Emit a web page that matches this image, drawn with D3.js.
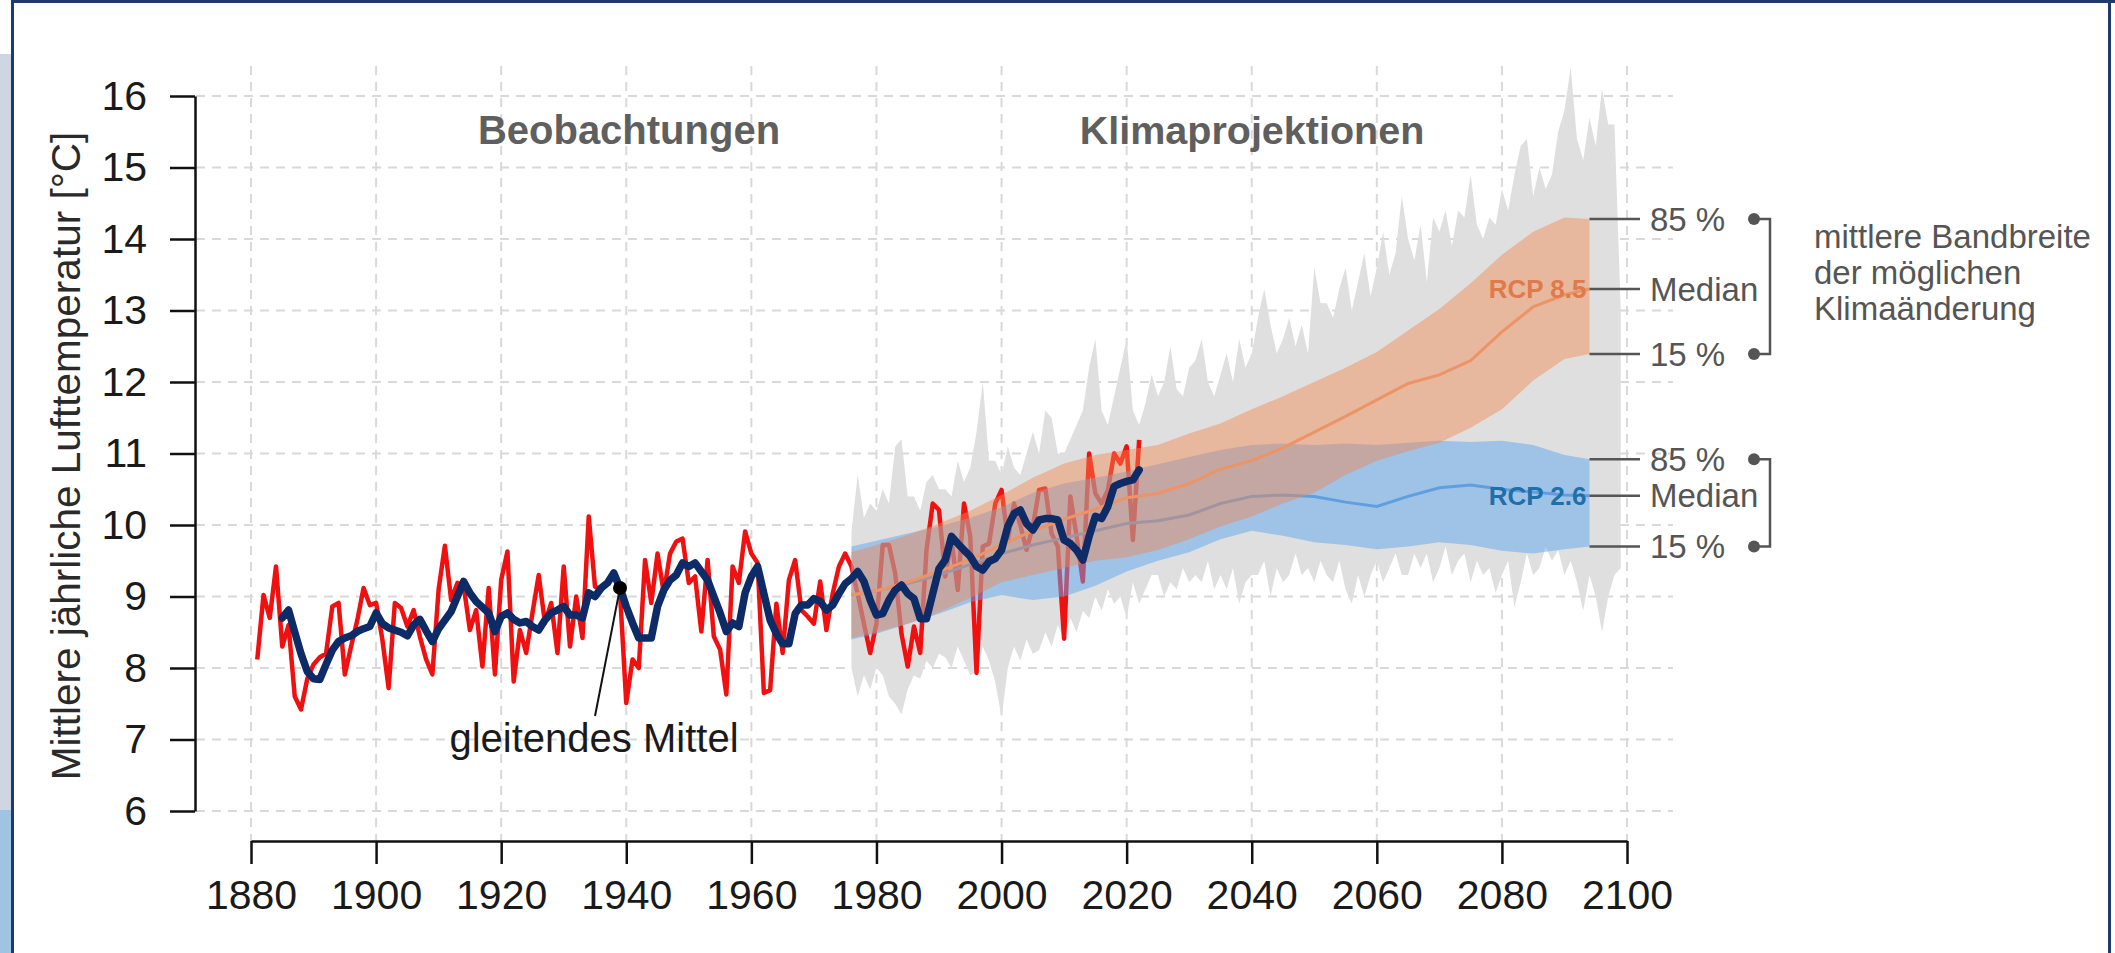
<!DOCTYPE html>
<html>
<head>
<meta charset="utf-8">
<script src="https://cdn.jsdelivr.net/npm/d3@7"></script>
<style>
  body { margin: 0; background: #fff; }
  svg { display: block; font-family: Arial, "Liberation Sans", sans-serif; }
</style>
</head>
<body>
<div class="chart"></div>
<script>
// observed annual mean temperature 1881-2022
const obsStart = 1881;
const obsTemp = [
  8.12, 9.02, 8.70, 9.42, 8.30, 8.60, 7.60, 7.42, 7.85, 8.05,
  8.15, 8.20, 8.86, 8.91, 7.91, 8.30, 8.67, 9.12, 8.88, 8.91,
  8.40, 7.72, 8.91, 8.84, 8.58, 8.81, 8.44, 8.12, 7.91, 9.10,
  9.71, 8.95, 9.19, 9.15, 8.53, 8.81, 8.02, 9.12, 7.91, 9.23,
  9.63, 7.81, 8.53, 8.21, 8.77, 9.30, 8.63, 8.91, 8.21, 9.42,
  8.30, 9.00, 8.42, 10.12, 9.14, 9.09, 9.19, 9.28, 9.05, 7.51,
  8.12, 8.00, 9.51, 8.91, 9.60, 9.05, 9.60, 9.77, 9.81, 9.19,
  9.28, 8.51, 9.51, 8.44, 8.26, 7.63, 9.42, 9.19, 9.91, 9.60,
  9.47, 7.65, 7.69, 8.90, 8.21, 9.23, 9.51, 8.81, 8.72, 8.62,
  9.21, 8.53, 9.04, 9.42, 9.60, 9.42, 9.04, 8.62, 8.21, 8.62,
  9.72, 9.72, 9.32, 8.48, 8.02, 8.58, 8.21, 9.65, 10.30, 10.21,
  9.28, 9.79, 9.09, 10.30, 9.84, 7.93, 9.70, 9.74, 10.30, 10.49,
  9.80, 10.30, 10.00, 9.65, 9.98, 10.49, 10.51, 9.88, 9.70, 8.41,
  10.40, 9.84, 9.21, 11.00, 10.44, 10.30, 10.49, 11.00, 10.86, 11.10,
  9.79, 11.19
];

// gleitendes Mittel 1885-2022
const meanStart = 1885;
const meanTemp = [
  8.70, 8.81, 8.50, 8.20, 7.95, 7.85, 7.84, 8.05, 8.25, 8.37,
  8.42, 8.45, 8.51, 8.55, 8.58, 8.77, 8.62, 8.56, 8.53, 8.50,
  8.45, 8.60, 8.68, 8.52, 8.37, 8.55, 8.67, 8.79, 9.00, 9.21,
  9.05, 8.93, 8.85, 8.77, 8.51, 8.72, 8.77, 8.68, 8.63, 8.65,
  8.58, 8.53, 8.67, 8.77, 8.81, 8.86, 8.74, 8.74, 8.70, 9.05,
  9.00, 9.12, 9.19, 9.33, 9.12, 8.86, 8.63, 8.42, 8.42, 8.42,
  8.86, 9.09, 9.23, 9.30, 9.47, 9.42, 9.47, 9.35, 9.23, 9.00,
  8.77, 8.51, 8.63, 8.58, 9.05, 9.28, 9.42, 9.04, 8.67, 8.48,
  8.34, 8.34, 8.76, 8.88, 8.88, 8.97, 8.93, 8.81, 8.88, 9.04,
  9.18, 9.25, 9.35, 9.21, 8.95, 8.74, 8.76, 8.95, 9.09, 9.16,
  9.04, 8.97, 8.69, 8.69, 9.04, 9.39, 9.51, 9.84, 9.74, 9.65,
  9.56, 9.42, 9.37, 9.49, 9.53, 9.65, 9.98, 10.16, 10.21, 10.02,
  9.93, 10.07, 10.09, 10.09, 10.07, 9.79, 9.74, 9.65, 9.51, 9.84,
  10.12, 10.09, 10.26, 10.54, 10.58, 10.61, 10.63, 10.77
];

// full model range (grey) 1976-2099
const envStart = 1976;
const envHigh = [
  9.9, 10.7, 10.1, 10.3, 10.2, 10.5, 10.3, 11.1, 11.2, 10.4,
  10.4, 10.2, 10.6, 10.7, 10.5, 10.5, 10.4, 10.9, 10.6, 10.8,
  11.3, 12.0, 10.9, 10.9, 10.7, 11.1, 10.8, 10.7, 11.0, 11.3,
  11.0, 11.6, 11.5, 11.0, 11.0, 11.2, 11.4, 11.6, 12.2, 12.6,
  11.6, 11.4, 11.8, 12.2, 12.6, 11.6, 11.4, 11.7, 12.1, 11.8,
  12.0, 12.5, 11.9, 11.8, 12.2, 12.3, 12.6, 12.0, 11.8, 12.1,
  12.4, 12.0, 12.6, 12.2, 12.4, 12.9, 13.3, 12.8, 12.4, 12.6,
  12.9, 12.5, 12.8, 12.4, 13.6, 13.1, 13.1, 12.9, 13.3, 13.6,
  13.0, 13.4, 13.8, 13.2, 13.6, 14.1, 13.5, 13.8, 14.6, 14.0,
  13.7, 14.2, 13.4, 14.3, 14.1, 14.4, 13.9, 14.4, 14.3, 14.9,
  14.2, 14.0, 14.3, 14.2, 14.7, 14.4, 14.9, 15.3, 15.4, 14.6,
  15.0, 14.7, 14.9, 15.5, 15.8, 16.4, 15.4, 15.1, 15.7, 15.3,
  16.1, 15.6, 15.6, 13.0
];
const envLow = [
  8.0, 7.6, 7.9, 7.7, 8.0, 7.9, 7.6, 7.5, 7.35, 7.7,
  7.9, 7.85, 8.1, 8.0, 8.2, 8.15, 8.0, 8.3, 8.1, 7.9,
  7.95, 8.3, 8.1, 7.8, 7.3, 8.0, 8.3, 8.1, 8.4, 8.2,
  8.25, 8.5, 8.3, 8.6, 8.4, 8.7, 8.5, 8.8, 8.7, 9.0,
  8.8, 9.1, 8.9, 9.0, 8.7, 9.2, 8.9, 9.1, 9.3, 9.3,
  9.0, 9.2, 9.1, 9.4, 9.2, 9.3, 9.2, 9.5, 9.1, 9.3,
  9.1, 9.4, 8.9, 9.2, 9.3, 9.3, 9.5, 9.0, 9.4, 9.2,
  9.3, 9.6, 9.3, 9.4, 9.2, 9.5, 9.3, 9.2, 9.5, 9.1,
  8.9, 9.3, 9.0, 9.3, 9.5, 9.2, 9.4, 9.6, 9.3, 9.3,
  9.6, 9.4, 9.6, 9.2, 9.4, 9.7, 9.3, 9.5, 9.6, 9.2,
  9.5, 9.3, 9.4, 9.05, 9.3, 9.5, 8.85, 9.2, 9.6, 9.3,
  9.4, 9.7, 9.5, 9.65, 9.3, 9.5, 9.2, 8.8, 9.3, 9.0,
  8.5, 9.0, 9.3, 9.4
];

// 15 % / median / 85 % of the scenarios
const bandYears = [1976, 1980, 1985, 1990, 1995, 2000, 2005, 2010, 2015, 2020, 2025, 2030, 2035,
                   2040, 2045, 2050, 2055, 2060, 2065, 2070, 2075, 2080, 2085, 2090, 2094];
const rcp85High = [9.62, 9.72, 9.86, 10.02, 10.20, 10.42, 10.66, 10.86, 10.98, 11.05, 11.12, 11.28, 11.42,
                   11.62, 11.80, 12.00, 12.20, 12.42, 12.72, 13.02, 13.38, 13.78, 14.10, 14.30, 14.28];
const rcp85Median = [9.02, 9.08, 9.20, 9.35, 9.52, 9.72, 9.92, 10.08, 10.22, 10.38, 10.44, 10.58, 10.78,
                     10.90, 11.08, 11.30, 11.52, 11.75, 11.98, 12.10, 12.30, 12.70, 13.05, 13.22, 13.30];
const rcp85Low = [8.42, 8.50, 8.62, 8.78, 8.98, 9.20, 9.30, 9.40, 9.50, 9.55, 9.65, 9.80, 9.98,
                  10.12, 10.30, 10.45, 10.70, 10.90, 11.03, 11.15, 11.36, 11.62, 12.02, 12.32, 12.39];
const rcp26High = [9.70, 9.78, 9.88, 9.98, 10.10, 10.25, 10.45, 10.58, 10.66, 10.75, 10.85, 10.95, 11.05,
                   11.12, 11.14, 11.12, 11.14, 11.12, 11.15, 11.18, 11.16, 11.18, 11.12, 10.98, 10.92];
const rcp26Median = [9.02, 9.08, 9.18, 9.30, 9.45, 9.60, 9.72, 9.82, 9.92, 10.02, 10.06, 10.14, 10.30,
                     10.40, 10.42, 10.40, 10.32, 10.26, 10.40, 10.52, 10.56, 10.50, 10.46, 10.42, 10.41];
const rcp26Low = [8.40, 8.48, 8.62, 8.76, 8.92, 9.02, 8.95, 9.00, 9.15, 9.35, 9.50, 9.62, 9.80,
                  9.92, 9.85, 9.76, 9.72, 9.66, 9.70, 9.76, 9.72, 9.64, 9.60, 9.66, 9.70];

const xTickLabels = [1880, 1900, 1920, 1940, 1960, 1980, 2000, 2020, 2040, 2060, 2080, 2100];
const yTickLabels = [6, 7, 8, 9, 10, 11, 12, 13, 14, 15, 16];

const W = 2115, H = 953;
const font = "Arial, 'Liberation Sans', sans-serif";

const x = d3.scaleLinear().domain([1880, 2100]).range([251, 1627]);
const y = d3.scaleLinear().domain([6, 16]).range([811, 96]);

const svg = d3.select(".chart").append("svg")
    .attr("width", W)
    .attr("height", H);

// slide frame
svg.append("rect").attr("x", 0).attr("y", 0).attr("width", W).attr("height", H).attr("fill", "#fff");
svg.append("rect").attr("x", 0).attr("y", 54).attr("width", 12).attr("height", 756).attr("fill", "#cdd6e2");
svg.append("rect").attr("x", 0).attr("y", 810).attr("width", 12).attr("height", 143).attr("fill", "#9fc3e3");
svg.append("rect").attr("x", 11).attr("y", 0).attr("width", 3).attr("height", H).attr("fill", "#1f3a6e");
svg.append("rect").attr("x", 11).attr("y", 0).attr("width", W - 11).attr("height", 3).attr("fill", "#1f3a6e");
svg.append("rect").attr("x", 2108).attr("y", 0).attr("width", 3).attr("height", H).attr("fill", "#1f3a6e");

//grid
const grid = svg.append("g")
    .attr("stroke", "#d9d9d9")
    .attr("stroke-width", 2)
    .attr("stroke-dasharray", "9,7");
grid.selectAll(".hgrid")
  .data(yTickLabels)
  .join("line")
    .attr("class", "hgrid")
    .attr("x1", 196).attr("x2", 1673)
    .attr("y1", d => y(d)).attr("y2", d => y(d));
grid.selectAll(".vgrid")
  .data(xTickLabels)
  .join("line")
    .attr("class", "vgrid")
    .attr("x1", d => x(d)).attr("x2", d => x(d))
    .attr("y1", 66).attr("y2", 841);

const env = envHigh.map((v, i) => ({year: envStart + i, hi: v, lo: envLow[i]}));
const obs = obsTemp.map((v, i) => ({year: obsStart + i, t: v}));
const mean = meanTemp.map((v, i) => ({year: meanStart + i, t: v}));
const r85 = bandYears.map((yr, i) => ({year: yr, hi: rcp85High[i], med: rcp85Median[i], lo: rcp85Low[i]}));
const r26 = bandYears.map((yr, i) => ({year: yr, hi: rcp26High[i], med: rcp26Median[i], lo: rcp26Low[i]}));

const area = d3.area()
    .x(d => x(d.year))
    .y0(d => y(d.lo))
    .y1(d => y(d.hi));
const line = d3.line()
    .x(d => x(d.year))
    .y(d => y(d.t));
const medLine = d3.line()
    .x(d => x(d.year))
    .y(d => y(d.med));

// grey spread of all runs
svg.append("path")
    .datum(env)
    .attr("fill", "#dfdfdf")
    .attr("d", area);

// observations
svg.append("path")
    .datum(obs)
    .attr("fill", "none")
    .attr("stroke", "#f01010")
    .attr("stroke-width", 4.5)
    .attr("stroke-linejoin", "round")
    .attr("d", line);

// RCP 2.6
svg.append("path")
    .datum(r26)
    .attr("fill", "rgb(95,165,240)")
    .attr("fill-opacity", 0.5)
    .attr("d", area);
svg.append("path")
    .datum(r26)
    .attr("fill", "none")
    .attr("stroke", "#5f9fe0")
    .attr("stroke-width", 3)
    .attr("d", medLine);

// RCP 8.5
svg.append("path")
    .datum(r85)
    .attr("fill", "rgb(242,135,80)")
    .attr("fill-opacity", 0.45)
    .attr("d", area);
svg.append("path")
    .datum(r85)
    .attr("fill", "none")
    .attr("stroke", "#ec9466")
    .attr("stroke-width", 3)
    .attr("d", medLine);

// moving mean
svg.append("path")
    .datum(mean)
    .attr("fill", "none")
    .attr("stroke", "#0d2b66")
    .attr("stroke-width", 7.5)
    .attr("stroke-linejoin", "round")
    .attr("stroke-linecap", "round")
    .attr("d", line);

// pointer to moving mean
const dotYear = 1939;
const dotT = meanTemp[dotYear - meanStart];
svg.append("line")
    .attr("x1", x(dotYear) - 25).attr("y1", 716)
    .attr("x2", x(dotYear)).attr("y2", y(dotT))
    .attr("stroke", "#111").attr("stroke-width", 2);
svg.append("circle")
    .attr("cx", x(dotYear)).attr("cy", y(dotT)).attr("r", 7)
    .attr("fill", "#000");
svg.append("text")
    .attr("x", x(dotYear) - 26).attr("y", 752)
    .attr("text-anchor", "middle")
    .attr("font-family", font).attr("font-size", 40)
    .attr("fill", "#1a1a1a")
    .text("gleitendes Mittel");

// section titles
svg.append("text")
    .attr("x", 629).attr("y", 144)
    .attr("text-anchor", "middle")
    .attr("font-family", font).attr("font-size", 40).attr("font-weight", "bold")
    .attr("fill", "#5f5f5f")
    .text("Beobachtungen");
svg.append("text")
    .attr("x", 1252).attr("y", 144)
    .attr("text-anchor", "middle")
    .attr("font-family", font).attr("font-size", 39.5).attr("font-weight", "bold")
    .attr("fill", "#5f5f5f")
    .text("Klimaprojektionen");

// scenario labels + legend on the right
const last = bandYears.length - 1;
const ex = x(bandYears[last]);
svg.append("text")
    .attr("x", ex - 3).attr("y", y(rcp85Median[last]))
    .attr("dy", "0.35em").attr("text-anchor", "end")
    .attr("font-family", font).attr("font-size", 26).attr("font-weight", "bold")
    .attr("fill", "#e07a48")
    .text("RCP 8.5");
svg.append("text")
    .attr("x", ex - 3).attr("y", y(rcp26Median[last]))
    .attr("dy", "0.35em").attr("text-anchor", "end")
    .attr("font-family", font).attr("font-size", 26).attr("font-weight", "bold")
    .attr("fill", "#1f6fa8")
    .text("RCP 2.6");

const legendRows = [
  {v: rcp85High[last], label: "85 %", dot: true},
  {v: rcp85Median[last], label: "Median", dot: false},
  {v: rcp85Low[last], label: "15 %", dot: true},
  {v: rcp26High[last], label: "85 %", dot: true},
  {v: rcp26Median[last], label: "Median", dot: false},
  {v: rcp26Low[last], label: "15 %", dot: true}
];
const leg = svg.append("g").attr("stroke", "#555").attr("stroke-width", 2.5);
leg.selectAll(".lt")
  .data(legendRows)
  .join("line")
    .attr("class", "lt")
    .attr("x1", ex).attr("x2", 1640)
    .attr("y1", d => y(d.v)).attr("y2", d => y(d.v));
svg.selectAll(".ll")
  .data(legendRows)
  .join("text")
    .attr("class", "ll")
    .attr("x", 1650).attr("y", d => y(d.v))
    .attr("dy", "0.35em")
    .attr("font-family", font).attr("font-size", 33)
    .attr("fill", "#555")
    .text(d => d.label);
svg.selectAll(".ld")
  .data(legendRows.filter(d => d.dot))
  .join("circle")
    .attr("class", "ld")
    .attr("cx", 1754).attr("cy", d => y(d.v)).attr("r", 6)
    .attr("fill", "#555");
[[rcp85High[last], rcp85Low[last]], [rcp26High[last], rcp26Low[last]]].forEach(p => {
  leg.append("path")
      .attr("fill", "none")
      .attr("d", "M1754," + y(p[0]) + "H1770V" + y(p[1]) + "H1754");
});
svg.append("text")
    .attr("font-family", font).attr("font-size", 33)
    .attr("fill", "#555")
    .selectAll("tspan")
    .data(["mittlere Bandbreite", "der möglichen", "Klimaänderung"])
    .join("tspan")
      .attr("x", 1814)
      .attr("y", (d, i) => 248 + i * 36)
      .text(d => d);

//Axis
const yAxis = d3.axisLeft(y)
    .tickValues(yTickLabels)
    .tickSize(25)
    .tickSizeOuter(0)
    .tickPadding(23);
svg.append("g")
    .attr("class", "y-axis")
    .attr("transform", "translate(195,0)")
    .call(yAxis)
    .attr("font-size", 41)
    .attr("font-family", font)
    .call(g => g.select(".domain").attr("stroke", "#111").attr("stroke-width", 2.5))
    .call(g => g.selectAll(".tick line").attr("stroke", "#111").attr("stroke-width", 2.5))
    .call(g => g.selectAll(".tick text").attr("fill", "#1a1a1a"));

const xAxis = d3.axisBottom(x)
    .tickValues(xTickLabels)
    .tickFormat(d3.format("d"))
    .tickSize(23)
    .tickSizeOuter(0)
    .tickPadding(16);
svg.append("g")
    .attr("class", "x-axis")
    .attr("transform", "translate(0,841)")
    .call(xAxis)
    .attr("font-size", 41)
    .attr("font-family", font)
    .call(g => g.select(".domain").attr("stroke", "#111").attr("stroke-width", 2.5))
    .call(g => g.selectAll(".tick line").attr("stroke", "#111").attr("stroke-width", 2.5))
    .call(g => g.selectAll(".tick text").attr("fill", "#1a1a1a"));

// axis title
svg.append("text")
    .attr("transform", "translate(80,456) rotate(-90)")
    .attr("text-anchor", "middle")
    .attr("font-family", font).attr("font-size", 40.5)
    .attr("fill", "#2a2a2a")
    .text("Mittlere jährliche Lufttemperatur [°C]");
</script>
</body>
</html>
